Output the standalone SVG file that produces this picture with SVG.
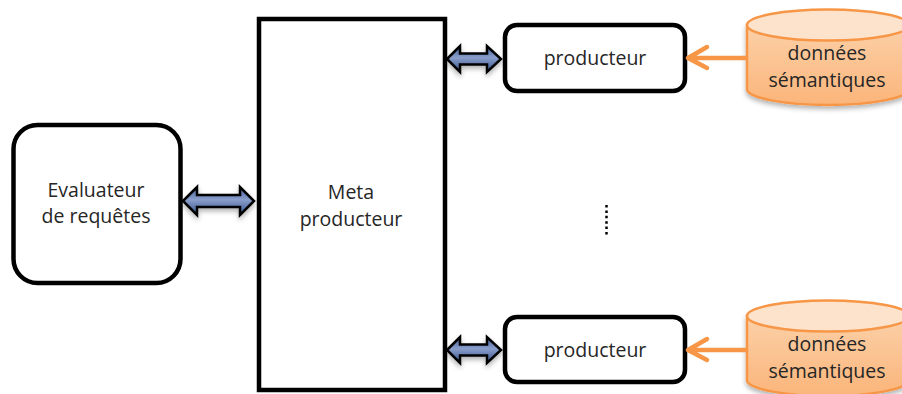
<svg xmlns="http://www.w3.org/2000/svg" width="902" height="394" viewBox="0 0 902 394">
<defs>
<linearGradient id="blue" x1="0" y1="0" x2="0" y2="1"><stop offset="0" stop-color="#3f5a94"/><stop offset="0.45" stop-color="#8a9ecb"/><stop offset="1" stop-color="#34508a"/></linearGradient>
<linearGradient id="orange" x1="0" y1="0" x2="0" y2="1"><stop offset="0" stop-color="#fbd0a8"/><stop offset="1" stop-color="#fbb57a"/></linearGradient>
<filter id="sh" x="-20%" y="-20%" width="140%" height="150%"><feDropShadow dx="0" dy="3" stdDeviation="2.5" flood-color="#000" flood-opacity="0.3"/></filter>
</defs>
<style>
.box{fill:#fff;stroke:#000;stroke-width:4.5}
.t{font-family:"Open Sans","Liberation Sans",sans-serif;font-size:19.500px;fill:#262626;text-anchor:middle}
.dbl{fill:url(#blue);stroke:#000;stroke-width:2.5;stroke-linejoin:miter;filter:url(#sh)}
.cyl{fill:url(#orange);stroke:#f79646;stroke-width:2.5}
.top{fill:#fde3cc;stroke:#f79646;stroke-width:2.5}
.or{stroke:#f79646;stroke-width:4.500;fill:none;stroke-linecap:round;stroke-linejoin:round}
</style>
<rect width="902" height="394" fill="#fff"/>
<g id="evaluateur"><rect class="box" x="13.500" y="125" width="167" height="158" rx="24"/><text class="t" x="96" y="197">Evaluateur</text><text class="t" x="96" y="223">de requêtes</text></g>
<g id="meta"><rect class="box" x="259" y="19" width="186" height="371"/><text class="t" x="351" y="199">Meta</text><text class="t" x="351" y="226">producteur</text></g>
<g id="prod1"><rect class="box" x="505" y="25" width="180" height="66" rx="12"/><text class="t" x="595" y="65">producteur</text></g>
<g id="prod2"><rect class="box" x="505" y="317" width="180" height="65" rx="12"/><text class="t" x="595" y="357">producteur</text></g>
<g id="db1"><path class="cyl" filter="url(#sh)" d="M747 25 V89 C747 98 785 105 828 105 C871 105 909 98 909 89 V25 Z"/><ellipse class="top" cx="828" cy="25" rx="81" ry="15.500"/><text class="t" x="827" y="60">données</text><text class="t" x="827" y="87">sémantiques</text></g>
<g id="db2"><path class="cyl" filter="url(#sh)" d="M747 316 V380 C747 389 785 396 828 396 C871 396 909 389 909 380 V316 Z"/><ellipse class="top" cx="828" cy="316" rx="81" ry="15.500"/><text class="t" x="827" y="351">données</text><text class="t" x="827" y="378">sémantiques</text></g>
<g id="connectors">
<path class="dbl" d="M447 59 L460 46 V53.500 H487 V46 L501 59 L487 72 V64.500 H460 V72 Z"/>
<path class="dbl" d="M447 350 L460 337 V344.500 H487 V337 L501 350 L487 363 V355.500 H460 V363 Z"/>
<path class="dbl" d="M183 201 L197 187 V195 H240 V187 L254 201 L240 215 V207 H197 V215 Z"/>
<path class="or" d="M746 58 H688 M707 47 L688 58 L707 68"/>
<path class="or" d="M746 350 H688 M707 339 L688 350 L707 360"/>
<path d="M606.500 205 V236" stroke="#000" stroke-width="2.500" stroke-dasharray="2.500 2.900" fill="none"/>
</g>
</svg>
